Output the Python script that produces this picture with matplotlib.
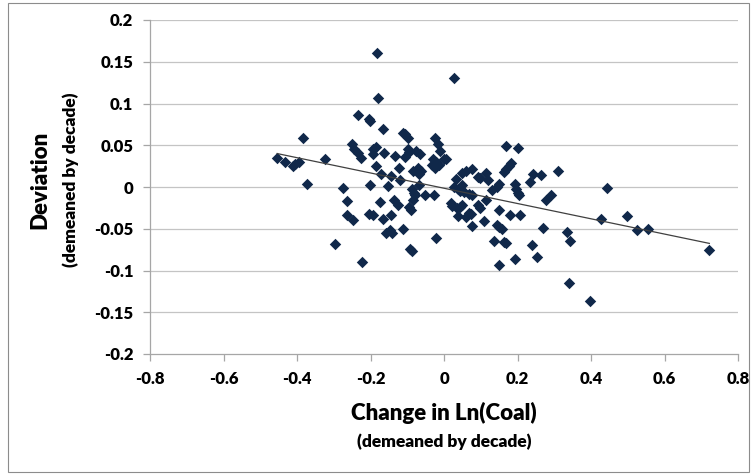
import matplotlib
matplotlib.use("Agg")
import matplotlib.pyplot as plt
from matplotlib.patches import Rectangle
import numpy as np

plt.rcParams['font.family'] = ['Lato', 'DejaVu Sans']

# Change in Ln(Coal), demeaned by decade
coal_change = [
    -0.454, -0.434, -0.412, -0.405, -0.394, -0.383, -0.372, -0.324, -0.297, -0.275,
    -0.264, -0.263, -0.247, -0.222, -0.251, -0.245, -0.233, -0.225, -0.235, -0.205,
    -0.202, -0.182, -0.179, -0.193, -0.186, -0.192, -0.202, -0.185, -0.203, -0.193,
    -0.167, -0.171, -0.162, -0.153, -0.175, -0.166, -0.158, -0.147, -0.142, -0.143,
    -0.143, -0.132, -0.136, -0.126, -0.122, -0.120, -0.112, -0.105, -0.098, -0.099,
    -0.096, -0.105, -0.112, -0.094, -0.090, -0.092, -0.086, -0.086, -0.081, -0.078,
    -0.083, -0.083, -0.071, -0.063, -0.068, -0.077, -0.065, -0.068, -0.051, -0.027,
    -0.025, -0.017, -0.011, -0.030, -0.023, -0.032, -0.025, -0.014, -0.001, 0.005,
    -0.021, 0.027, 0.019, 0.023, 0.036, 0.044, 0.050, 0.037, 0.061, 0.068,
    0.074, 0.076, 0.033, 0.027, 0.038, 0.048, 0.044, 0.055, 0.068, 0.077,
    0.048, 0.060, 0.077, 0.092, 0.099, 0.115, 0.121, 0.092, 0.099, 0.114,
    0.110, 0.168, 0.202, 0.182, 0.177, 0.170, 0.164, 0.151, 0.143, 0.131,
    0.193, 0.196, 0.202, 0.205, 0.151, 0.180, 0.206, 0.143, 0.151, 0.158,
    0.136, 0.164, 0.168, 0.151, 0.193, 0.241, 0.263, 0.233, 0.310, 0.292,
    0.278, 0.240, 0.252, 0.270, 0.335, 0.344, 0.339, 0.397, 0.427, 0.443,
    0.498, 0.525, 0.556, 0.722,
]

# Deviation, demeaned by decade
deviation = [
    0.035, 0.030, 0.025, 0.027, 0.030, 0.059, 0.004, 0.034, -0.068, -0.001,
    -0.017, -0.033, -0.040, -0.090, 0.051, 0.045, 0.041, 0.035, 0.086, 0.082,
    0.079, 0.161, 0.106, 0.045, 0.048, 0.039, 0.002, 0.025, -0.032, -0.033,
    0.069, 0.015, 0.041, 0.001, -0.018, -0.038, -0.055, -0.052, -0.055, 0.013,
    -0.034, 0.037, -0.016, -0.021, 0.023, 0.008, 0.065, 0.064, 0.059, 0.045,
    0.042, 0.036, -0.050, -0.024, -0.028, -0.074, -0.077, -0.002, -0.007, -0.010,
    -0.016, 0.019, 0.023, 0.019, 0.016, 0.043, 0.040, 0.002, -0.010, -0.010,
    0.059, 0.051, 0.043, 0.033, 0.030, 0.026, 0.023, 0.026, 0.033, 0.033,
    -0.061, 0.130, -0.019, -0.023, -0.025, -0.024, -0.022, -0.035, -0.036, -0.031,
    -0.032, -0.047, 0.010, 0.000, -0.002, 0.002, -0.005, -0.006, -0.008, -0.010,
    0.017, 0.019, 0.022, 0.012, 0.011, 0.017, 0.008, -0.022, -0.025, -0.016,
    -0.041, 0.049, 0.047, 0.029, 0.025, 0.022, 0.018, 0.004, 0.000, -0.004,
    0.003, -0.002, -0.007, -0.010, -0.027, -0.034, -0.034, -0.045, -0.048, -0.050,
    -0.065, -0.066, -0.067, -0.093, -0.086, 0.015, 0.014, 0.006, 0.019, -0.009,
    -0.016, -0.069, -0.084, -0.049, -0.054, -0.065, -0.115, -0.137, -0.038, -0.001,
    -0.035, -0.052, -0.050, -0.075,
]

x_ticks = [-0.8, -0.6, -0.4, -0.2, 0, 0.2, 0.4, 0.6, 0.8]
x_tick_labels = ['-0.8', '-0.6', '-0.4', '-0.2', '0', '0.2', '0.4', '0.6', '0.8']
y_ticks = [-0.2, -0.15, -0.1, -0.05, 0, 0.05, 0.1, 0.15, 0.2]
y_tick_labels = ['-0.2', '-0.15', '-0.1', '-0.05', '0', '0.05', '0.1', '0.15', '0.2']

x = np.array(coal_change)
y = np.array(deviation)

fig = plt.figure(figsize=(7.53, 4.75), dpi=100)
fig.patches.append(Rectangle((8/753, 3/475), 741/753, 469/475, transform=fig.transFigure,
                             fill=False, edgecolor='#8c8c8c', linewidth=0.8))
ax = fig.add_axes([150/753, 1 - 354/475, 588/753, 334/475])

for t in y_ticks:
    if t != -0.2:
        ax.axhline(t, color='#c4c4c4', linewidth=0.9, zorder=0)

ax.scatter(x, y, marker='D', s=34, color='#10284a', zorder=3, linewidths=0)

slope, intercept = np.polyfit(x, y, 1)
xl = np.array([x.min(), x.max()])
ax.plot(xl, slope * xl + intercept, color='#404040', linewidth=0.9, zorder=4)

ax.set_xlim(-0.8, 0.8)
ax.set_ylim(-0.2, 0.2)
ax.set_xticks(x_ticks)
ax.set_xticklabels(x_tick_labels)
ax.set_yticks(y_ticks)
ax.set_yticklabels(y_tick_labels)

for side in ['top', 'right']:
    ax.spines[side].set_visible(False)
for side in ['left', 'bottom']:
    ax.spines[side].set_color('#a6a6a6')
    ax.spines[side].set_linewidth(0.9)
ax.tick_params(axis='both', direction='out', length=5, width=0.9, color='#a6a6a6',
               labelsize=12, pad=7)
for lab in ax.get_xticklabels() + ax.get_yticklabels():
    lab.set_fontweight('heavy')

fig.text(444/753, 1 - 413/475, 'Change in Ln(Coal)', ha='center', va='center',
         fontsize=16, fontweight='heavy')
fig.text(444/753, 1 - 442/475, '(demeaned by decade)', ha='center', va='center',
         fontsize=12.5, fontweight='heavy')
fig.text(40/753, 1 - 180/475, 'Deviation', ha='center', va='center', rotation=90,
         fontsize=16, fontweight='heavy')
fig.text(71/753, 1 - 180/475, '(demeaned by decade)', ha='center', va='center', rotation=90,
         fontsize=12.5, fontweight='heavy')

fig.savefig('out.png', dpi=100)
